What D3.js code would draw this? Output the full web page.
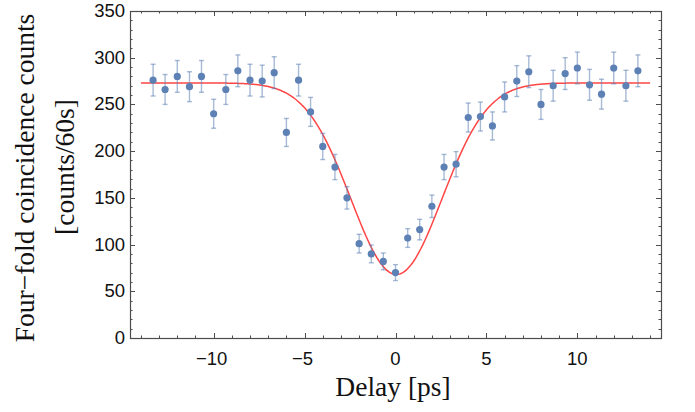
<!DOCTYPE html>
<html>
<head>
<meta charset="utf-8">
<script src="https://cdn.jsdelivr.net/npm/d3@7"></script>
<style>
  body { margin: 0; background: #fff; }
  .tick-label { font-family: "Liberation Sans", Arial, sans-serif; font-size: 18.5px; fill: #111; }
  .axis-title { font-family: "Liberation Serif", "Times New Roman", serif; font-size: 27.5px; fill: #111; }
</style>
</head>
<body>
<svg></svg>
<script>
//begin: data
var delays = [-13.33, -12.67, -12, -11.33, -10.67, -10, -9.33, -8.67, -8, -7.33, -6.67,
              -6, -5.33, -4.67, -4, -3.33, -2.67, -2, -1.33, -0.67, 0,
              0.67, 1.33, 2, 2.67, 3.33, 4, 4.67, 5.33, 6, 6.67,
              7.33, 8, 8.67, 9.33, 10, 10.67, 11.33, 12, 12.67, 13.33];
var counts = [276, 266, 280, 269, 280, 240, 266, 286, 276, 275, 284,
              220, 276, 242, 205, 183, 150, 101, 90, 82, 70,
              107, 116, 141, 183, 186, 236, 237, 227, 258, 275,
              285, 250, 270, 283, 289, 271, 261, 289, 270, 286];
var errors = [17, 16, 17, 16, 17, 15.5, 16, 17, 17, 17, 17,
              15, 17, 15.5, 14, 13.5, 12, 10, 9.5, 9, 8.5,
              10, 11, 12, 13.5, 13.5, 15.5, 15.5, 15, 16, 16.5,
              17, 16, 16.5, 17, 17, 16.5, 16, 17, 16.5, 17];
var xTickLabels = [-10, -5, 0, 5, 10];
var yTickLabels = [0, 50, 100, 150, 200, 250, 300, 350];
// gaussian dip fit
var fitBaseline = 273, fitMin = 68, fitCenter = 0.05, fitSigma = 2.5;
//end: data

//begin: layout conf.
var svgWidth = 695,
    svgHeight = 412,
    margin = {top: 11, right: 34, bottom: 74, left: 130},
    width = svgWidth - margin.left - margin.right,
    height = svgHeight - margin.top - margin.bottom;
var frameColor = "#4d4d4d",
    pointColor = "#5e81b5";
//end: layout conf.

var x = d3.scaleLinear().domain([-14.6, 14.6]).range([0, width]);
var y = d3.scaleLinear().domain([0, 350]).range([height, 0]);

var svg = d3.select("svg")
    .attr("width", svgWidth)
    .attr("height", svgHeight);

var g = svg.append("g")
    .attr("transform", "translate(" + [margin.left, margin.top] + ")");

function fit(t) {
  return fitBaseline - (fitBaseline - fitMin) * Math.exp(-(t - fitCenter) * (t - fitCenter) / (2 * fitSigma * fitSigma));
}

// frame ticks, inward on all four sides (mathematica style)
function drawTicks() {
  var xMinor = d3.range(-14, 15, 1),
      yMinor = d3.range(0, 351, 10);

  var ticks = g.append("g").attr("stroke", frameColor).attr("stroke-width", 1);

  xMinor.forEach(function(v){
    var len = (v % 5 === 0) ? 5 : 2.5,
        px = Math.round(x(v)) + 0.5;
    ticks.append("line").attr("x1", px).attr("x2", px).attr("y1", height).attr("y2", height - len);
    ticks.append("line").attr("x1", px).attr("x2", px).attr("y1", 0).attr("y2", len);
  });
  yMinor.forEach(function(v){
    var len = (v % 50 === 0) ? 5 : 2.5,
        py = Math.round(y(v)) + 0.5;
    ticks.append("line").attr("y1", py).attr("y2", py).attr("x1", 0).attr("x2", len);
    ticks.append("line").attr("y1", py).attr("y2", py).attr("x1", width).attr("x2", width - len);
  });

  g.selectAll(".xlab")
      .data(xTickLabels)
      .enter().append("text")
      .classed("tick-label", true)
      .attr("x", function(d){ return x(d) - (d < 0 ? 2 : 0); })
      .attr("y", height + 27)
      .attr("text-anchor", "middle")
      .text(function(d){ return d < 0 ? "\u2212" + Math.abs(d) : d; });

  g.selectAll(".ylab")
      .data(yTickLabels)
      .enter().append("text")
      .classed("tick-label", true)
      .attr("x", -5)
      .attr("y", function(d){ return y(d) + 6; })
      .attr("text-anchor", "end")
      .text(function(d){ return d; });
}

function drawFrame() {
  g.append("rect")
      .attr("x", 0.5)
      .attr("y", 0.5)
      .attr("width", width)
      .attr("height", height)
      .attr("fill", "none")
      .attr("stroke", frameColor)
      .attr("stroke-width", 1.2);
}

function drawFit() {
  var pts = d3.range(-14, 14.001, 0.05).map(function(t){ return [t, fit(t)]; });
  var line = d3.line()
      .x(function(d){ return x(d[0]); })
      .y(function(d){ return y(d[1]); })
      .curve(d3.curveMonotoneX);
  g.append("path")
      .datum(pts)
      .attr("d", line)
      .attr("fill", "none")
      .attr("stroke", "#ff4545")
      .attr("stroke-width", 1.5);
}

function drawPoints() {
  var bars = g.append("g")
      .attr("stroke", pointColor)
      .attr("stroke-opacity", 0.55)
      .attr("stroke-width", 1.4);

  delays.forEach(function(d, i){
    var cx = x(d),
        top = y(counts[i] + errors[i]),
        bot = y(counts[i] - errors[i]);
    bars.append("line").attr("x1", cx).attr("x2", cx).attr("y1", top).attr("y2", bot);
    bars.append("line").attr("x1", cx - 2.5).attr("x2", cx + 2.5).attr("y1", top).attr("y2", top);
    bars.append("line").attr("x1", cx - 2.5).attr("x2", cx + 2.5).attr("y1", bot).attr("y2", bot);
  });

  g.selectAll(".pt")
      .data(delays)
      .enter().append("circle")
      .classed("pt", true)
      .attr("cx", function(d){ return x(d); })
      .attr("cy", function(d, i){ return y(counts[i]); })
      .attr("r", 3.6)
      .attr("fill", pointColor);
}

function drawTitles() {
  svg.append("text")
      .classed("axis-title", true)
      .attr("x", 393)
      .attr("y", 396)
      .attr("text-anchor", "middle")
      .text("Delay [ps]");

  svg.append("text")
      .classed("axis-title", true)
      .attr("transform", "translate(" + [34, 178] + ") rotate(-90)")
      .attr("text-anchor", "middle")
      .text("Four\u2212fold coincidence counts");

  svg.append("text")
      .classed("axis-title", true)
      .attr("transform", "translate(" + [74, 167] + ") rotate(-90)")
      .attr("text-anchor", "middle")
      .text("[counts/60s]");
}

drawFit();
drawPoints();
drawFrame();
drawTicks();
drawTitles();
</script>
</body>
</html>
